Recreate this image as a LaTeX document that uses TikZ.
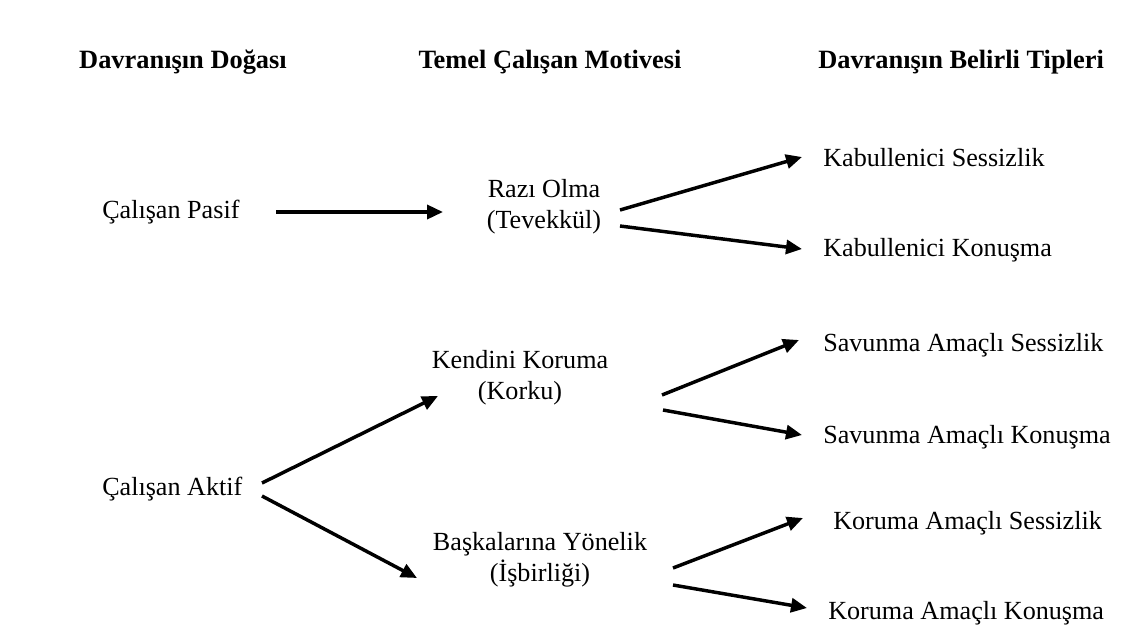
\documentclass[tikz,border=0pt]{standalone}
\usepackage{fontspec}
\setmainfont{Liberation Serif}
\usetikzlibrary{arrows.meta}
\begin{document}
\begin{tikzpicture}[x=0.75pt,y=-0.75pt,
  txt/.style={inner sep=0pt,font=\fontsize{19.6}{23.5}\selectfont,align=center},
  head/.style={txt,font=\fontsize{19.8}{23.5}\selectfont\bfseries},
  arr/.style={line width=2.6pt,-{Triangle[length=12pt,width=10.5pt]}}]
\useasboundingbox[fill=white] (0,0) rectangle (1123,629);
% headers
\node[head] (h1) at (183,62) {Davranışın Doğası};
\node[head] (h2) at (550,62) {Temel Çalışan Motivesi};
\node[head,anchor=west] (h3) at (818,62) {Davranışın Belirli Tipleri};
% left column
\node[txt,anchor=west] (pasif) at (102,212) {Çalışan Pasif};
\node[txt,anchor=west] (aktif) at (102,489) {Çalışan Aktif};
% middle column
\node[txt] (razi) at (544,207) {Razı Olma\\(Tevekkül)};
\node[txt] (kendini) at (520,378) {Kendini Koruma\\(Korku)};
\node[txt] (baska) at (540,560) {Başkalarına Yönelik\\(İşbirliği)};
% right column
\node[txt,anchor=west] (ks) at (823,158) {Kabullenici Sessizlik};
\node[txt,anchor=west] (kk) at (823,250) {Kabullenici Konuşma};
\node[txt,anchor=west] (ss) at (823,345) {Savunma Amaçlı Sessizlik};
\node[txt,anchor=west] (sk) at (823,437) {Savunma Amaçlı Konuşma};
\node[txt,anchor=west] (ks2) at (833,523) {Koruma Amaçlı Sessizlik};
\node[txt,anchor=west] (kk2) at (828,613) {Koruma Amaçlı Konuşma};
% arrows
\draw[arr] ([shift={(174,0)}]pasif.west) -- ([shift={(-101,5)}]razi.center);
\draw[arr] ([shift={(76,3)}]razi.center) -- ([shift={(-21,-1)}]ks.west);
\draw[arr] ([shift={(76,19)}]razi.center) -- ([shift={(-21,-1)}]kk.west);
\draw[arr] ([shift={(160,-6)}]aktif.west) -- ([shift={(-82,18)}]kendini.center);
\draw[arr] ([shift={(160,7)}]aktif.west) -- ([shift={(-123,18)}]baska.center);
\draw[arr] ([shift={(142,17)}]kendini.center) -- ([shift={(-24,-5)}]ss.west);
\draw[arr] ([shift={(143,32)}]kendini.center) -- ([shift={(-21,-2)}]sk.west);
\draw[arr] ([shift={(133,8)}]baska.center) -- ([shift={(-30,-5)}]ks2.west);
\draw[arr] ([shift={(133,25)}]baska.center) -- ([shift={(-21,-5)}]kk2.west);
\end{tikzpicture}
\end{document}
